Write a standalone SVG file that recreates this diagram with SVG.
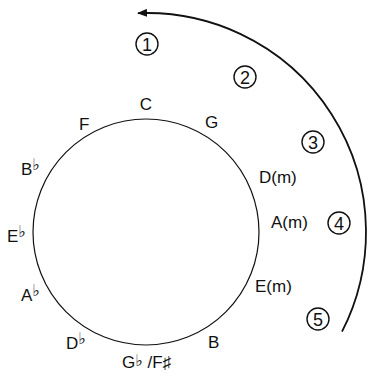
<svg xmlns="http://www.w3.org/2000/svg" width="369" height="378" viewBox="0 0 369 378">
<style>
.lbl{font-family:"Liberation Sans",Arial,sans-serif;font-size:17px;fill:#111}
.flat{font-family:"DejaVu Sans",sans-serif;font-size:16px}
.ring{fill:none;stroke:#111;stroke-width:1.4}
.num{font-family:"Liberation Sans",Arial,sans-serif;font-size:18px;fill:#111;text-anchor:middle}
</style>
<defs>
<marker id="ah" markerWidth="10" markerHeight="8" refX="9" refY="4" orient="auto" markerUnits="userSpaceOnUse">
<path d="M0,0 L10,4 L0,8 z" fill="#111"/>
</marker>
</defs>
<rect width="369" height="378" fill="#fff"/>
<g id="connectors">
<path d="M342,331.7 A219,219 0 0 0 138,13.2" fill="none" stroke="#111" stroke-width="1.8" marker-end="url(#ah)"/>
</g>
<g id="circle"><circle cx="146" cy="232" r="113" fill="none" stroke="#111" stroke-width="1.2"/></g>
<g id="n-C"><text class="lbl" x="146" y="110" text-anchor="middle">C</text></g>
<g id="n-F"><text class="lbl" x="79" y="130">F</text></g>
<g id="n-G"><text class="lbl" x="205" y="128">G</text></g>
<g id="n-Bb"><text class="lbl" x="21" y="175">B<tspan class="flat" dy="-5">♭</tspan></text></g>
<g id="n-Eb"><text class="lbl" x="7" y="242">E<tspan class="flat" dy="-5">♭</tspan></text></g>
<g id="n-Ab"><text class="lbl" x="21" y="301">A<tspan class="flat" dy="-5">♭</tspan></text></g>
<g id="n-Db"><text class="lbl" x="66" y="349">D<tspan class="flat" dy="-5">♭</tspan></text></g>
<g id="n-GbFs"><text class="lbl" x="122" y="368">G<tspan class="flat" dy="-2">♭</tspan><tspan dy="2"> /F♯</tspan></text></g>
<g id="n-B"><text class="lbl" x="208" y="348">B</text></g>
<g id="n-Em"><text class="lbl" x="255" y="292">E(m)</text></g>
<g id="n-Am"><text class="lbl" x="271" y="228">A(m)</text></g>
<g id="n-Dm"><text class="lbl" x="259" y="183">D(m)</text></g>
<g id="n-1"><circle class="ring" cx="147" cy="44" r="11"/><text class="num" x="147" y="50.5">1</text></g>
<g id="n-2"><circle class="ring" cx="245" cy="77" r="11"/><text class="num" x="245" y="83.5">2</text></g>
<g id="n-3"><circle class="ring" cx="313" cy="142" r="11"/><text class="num" x="313" y="148.5">3</text></g>
<g id="n-4"><circle class="ring" cx="339" cy="223" r="11"/><text class="num" x="339" y="229.5">4</text></g>
<g id="n-5"><circle class="ring" cx="318" cy="319" r="11"/><text class="num" x="318" y="325.5">5</text></g>
</svg>
